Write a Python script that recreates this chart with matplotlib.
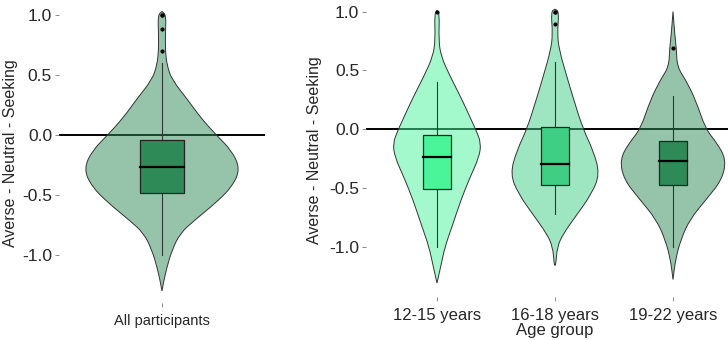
import numpy as np
import matplotlib.pyplot as plt
from matplotlib.path import Path
from matplotlib.patches import PathPatch, Rectangle

plt.rcParams['font.family'] = ['Liberation Sans', 'DejaVu Sans']

# ── Violin density profiles (score level, relative density) ──────────────────
all_levels  = [1.03, 1.0, 0.85, 0.71, 0.58, 0.46, 0.29, 0.15, 0.0, -0.125,
               -0.28, -0.43, -0.57, -0.71, -0.82, -0.96, -1.1, -1.21, -1.3]
all_density = [0, 4, 3.5, 3.3, 5, 10, 26, 38, 54, 69,
               78, 70, 53, 32.5, 18, 10, 5, 2, 0]

age_groups = ['12-15 years', '16-18 years', '19-22 years']
age_levels = [
    [1.01, 0.98, 0.76, 0.62, 0.45, 0.25, 0.10, -0.01, -0.12, -0.24,
     -0.41, -0.6, -0.83, -1.0, -1.17, -1.31],
    [1.02, 1.0, 0.81, 0.67, 0.45, 0.25, 0.0, -0.18, -0.38, -0.55,
     -0.75, -0.89, -1.0, -1.15, -1.16],
    [1.0, 0.81, 0.69, 0.53, 0.42, 0.25, 0.0, -0.12, -0.26, -0.43,
     -0.6, -0.77, -0.94, -1.11, -1.28],
]
age_density = [
    [0, 2.5, 1.7, 4, 13, 25, 33, 39, 44, 42, 33, 24, 15, 8, 3.7, 0],
    [0, 4, 2.3, 4.3, 11.7, 18.7, 28, 38, 44.7, 36.7, 20, 8.3, 2.3, 0.8, 0],
    [0, 1.7, 3.3, 4.2, 12.5, 22.5, 32.5, 44, 53, 49, 33, 16.7, 7.8, 2.5, 0],
]

# ── Box-plot summaries: whisker low, Q1, median, Q3, whisker high ─────────────
all_box      = [-1.0, -0.48, -0.27, -0.04, 0.6]
all_outliers = [0.7, 0.88, 1.0, 1.0]

age_box = [
    [-1.0, -0.51, -0.24, -0.05, 0.4],
    [-0.72, -0.48, -0.30, 0.02, 0.57],
    [-1.0, -0.48, -0.27, -0.10, 0.28],
]
age_outliers = [[1.0], [0.89, 1.0, 1.0], [0.69]]

ALL_CLR = '#2e8b57'
AGE_CLR = ['#4af59a', '#3ecf85', '#2e8b57']
TXT = '#262626'


def smooth_outline(xs, ys):
    # quadratic-curve path through the midpoints of a closed polygon
    pts = np.column_stack([xs, ys])
    n = len(pts)
    mids = (pts + np.roll(pts, -1, axis=0)) / 2
    verts = [mids[-1]]
    codes = [Path.MOVETO]
    for i in range(n):
        verts += [pts[i], mids[i]]
        codes += [Path.CURVE3, Path.CURVE3]
    verts.append(mids[-1])
    codes.append(Path.CLOSEPOLY)
    return Path(verts, codes)


def draw_violin(ax, pos, levels, density, scale, clr, stats, outliers, box_w):
    lv = np.array(levels)
    hw = np.array(density) * scale
    xs = np.concatenate([pos + hw, (pos - hw)[::-1]])
    ys = np.concatenate([lv, lv[::-1]])
    ax.add_patch(PathPatch(smooth_outline(xs, ys), facecolor=clr, alpha=0.5,
                           edgecolor='none', zorder=2))
    ax.add_patch(PathPatch(smooth_outline(xs, ys), facecolor='none',
                           edgecolor='#333333', lw=0.7, zorder=3))

    lo, q1, med, q3, hi = stats
    ax.plot([pos, pos], [lo, q1], color='#333333', lw=0.8, zorder=4)
    ax.plot([pos, pos], [q3, hi], color='#333333', lw=0.8, zorder=4)
    ax.add_patch(Rectangle((pos - box_w / 2, q1), box_w, q3 - q1,
                           facecolor=clr, edgecolor='#222222', lw=0.9, zorder=5))
    ax.plot([pos - box_w / 2, pos + box_w / 2], [med, med],
            color='black', lw=1.6, zorder=6)
    ax.scatter([pos] * len(outliers), outliers, s=9, color='black',
               zorder=7, linewidths=0)


def style_axes(ax):
    for sp in ax.spines.values():
        sp.set_visible(False)
    ax.tick_params(axis='both', length=3, width=0.6, color='#777777',
                   labelcolor=TXT, pad=2)
    ax.tick_params(axis='y', labelsize=12.5)
    ax.tick_params(axis='x', labelsize=12, pad=5)
    ax.set_yticks([-1.0, -0.5, 0.0, 0.5, 1.0])
    ax.set_yticklabels(['-1.0', '-0.5', '0.0', '0.5', '1.0'])
    ax.axhline(0, color='black', lw=1.4, zorder=1)


fig = plt.figure(figsize=(7.28, 3.4), dpi=100, facecolor='white')

# ── Left: all participants ────────────────────────────────────────────────────
ax1 = fig.add_axes([0.081, 0.109, 0.283, 0.882])
draw_violin(ax1, 1.0, all_levels, all_density, 0.38 / 78, ALL_CLR,
            all_box, all_outliers, 0.21)
ax1.set_xlim(0.5, 1.5)
ax1.set_ylim(-1.4, 1.1)
style_axes(ax1)
ax1.set_xticks([1.0])
ax1.set_xticklabels(['All participants'], fontsize=10.5)
ax1.set_ylabel('Averse - Neutral - Seeking', fontsize=11.5, color=TXT)
ax1.yaxis.set_label_coords(-0.2, 0.5)

# ── Right: by age group ───────────────────────────────────────────────────────
ax2 = fig.add_axes([0.503, 0.126, 0.497, 0.865])
for i in range(len(age_groups)):
    draw_violin(ax2, i + 1, age_levels[i], age_density[i], 0.45 / 53,
                AGE_CLR[i], age_box[i], age_outliers[i], 0.245)
ax2.set_xlim(0.4, 3.466)
ax2.set_ylim(-1.43, 1.072)
style_axes(ax2)
ax2.set_xticks([1, 2, 3])
ax2.set_xticklabels(age_groups)
ax2.set_ylabel('Averse - Neutral - Seeking', fontsize=11.5, color=TXT)
ax2.yaxis.set_label_coords(-0.122, 0.5)
ax2.set_xlabel('Age group', fontsize=12, color=TXT)
ax2.xaxis.set_label_coords(0.52, -0.088)

fig.savefig('out.png', dpi=100, facecolor='white')
